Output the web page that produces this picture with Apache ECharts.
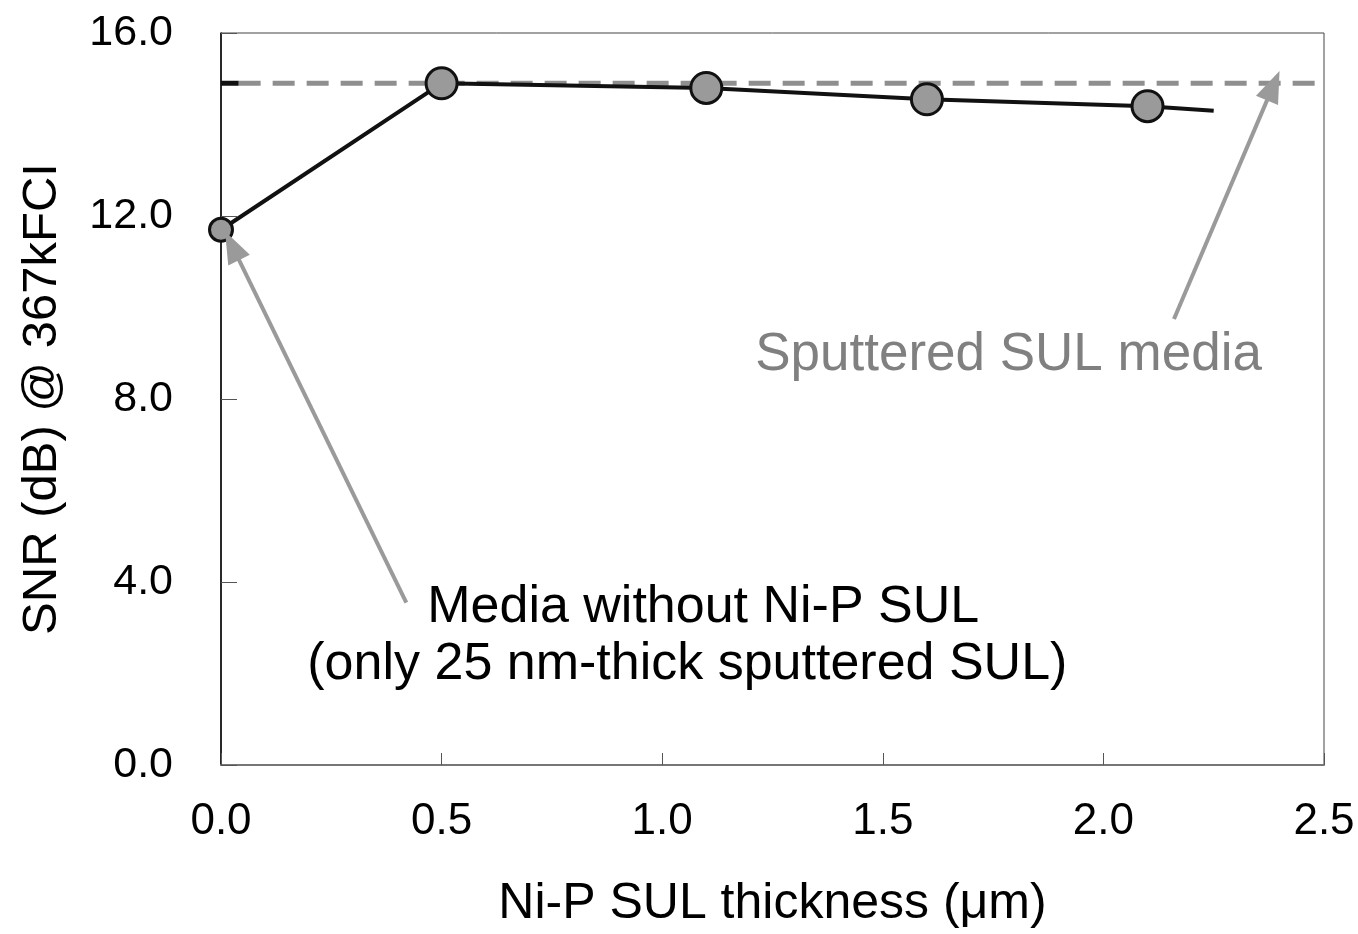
<!DOCTYPE html>
<html>
<head>
<meta charset="utf-8">
<title>SNR vs Ni-P SUL thickness</title>
<script src="https://cdn.jsdelivr.net/npm/echarts@6/dist/echarts.min.js"></script>
<style>
  html, body { margin: 0; padding: 0; background: #fff; }
  #chart { width: 1358px; height: 934px; }
</style>
</head>
<body>
<div id="chart"></div>
<script>
// data
var thickness = [0.0, 0.5, 1.1, 1.6, 2.1];
var snr = [11.7, 14.9, 14.8, 14.55, 14.4];
var lineEnd = [2.25, 14.3];            // line runs a bit past the last point
var sputteredSnr = 14.9;               // reference: sputtered SUL media
var xTicks = [0.0, 0.5, 1.0, 1.5, 2.0, 2.5];
var yTicks = [0.0, 4.0, 8.0, 12.0, 16.0];
var arrowLow = [[0.42, 3.55], [0.025, 11.35]];   // tail, tip
var arrowHigh = [[2.16, 9.75], [2.385, 14.85]];
var noteLow = ['Media without Ni-P SUL', '(only 25 nm-thick sputtered SUL)'];
var notePos = [[1.093, 3.43], [1.057, 2.19]];
var noteHigh = 'Sputtered SUL media';
var noteHighPos = [1.785, 8.96];

var chart = echarts.init(document.getElementById('chart'));

var pts = thickness.map(function (x, i) {
    return {
        value: [x, snr[i]],
        symbolSize: i === 0 ? 23 : 31
    };
});
pts.push({ value: lineEnd, symbol: 'none' });

var font = 'Liberation Sans, Arial, sans-serif';

var option = {
    backgroundColor: '#fff',
    animation: false,
    grid: {
        left: 221, right: 34, top: 33, bottom: 169,
        show: true, borderColor: '#444', borderWidth: 1
    },
    xAxis: {
        type: 'value',
        min: xTicks[0], max: xTicks[xTicks.length - 1], interval: 0.5,
        name: 'Ni-P SUL thickness (\u03bcm)',
        nameLocation: 'middle', nameGap: 114,
        nameTextStyle: { fontSize: 50, color: '#000', fontFamily: font },
        axisLine: { lineStyle: { color: '#777', width: 2 } },
        axisTick: { inside: true, length: 12, lineStyle: { color: '#555' } },
        axisLabel: {
            fontSize: 44, color: '#000', fontFamily: font, margin: 35,
            formatter: function (v) { return v.toFixed(1); }
        },
        splitLine: { show: false }
    },
    yAxis: {
        type: 'value',
        min: yTicks[0], max: yTicks[yTicks.length - 1], interval: 4,
        name: 'SNR (dB) @ 367kFCI',
        nameLocation: 'middle', nameGap: 154,
        nameTextStyle: { fontSize: 49, color: '#000', fontFamily: font },
        axisLine: { lineStyle: { color: '#000', width: 1.5 } },
        axisTick: { inside: true, length: 16, lineStyle: { color: '#555' } },
        axisLabel: {
            fontSize: 43, color: '#000', fontFamily: font, margin: 48,
            formatter: function (v) { return v.toFixed(1); }
        },
        splitLine: { show: false }
    },
    series: [
        {
            // dashed reference of sputtered SUL media
            type: 'line',
            data: [[0.04, sputteredSnr], [xTicks[xTicks.length - 1], sputteredSnr]],
            symbol: 'none',
            z: 1,
            lineStyle: { color: '#8f8f8f', width: 5, type: [22, 12] }
        },
        {
            type: 'line',
            data: [[0, sputteredSnr], [0.04, sputteredSnr]],
            symbol: 'none',
            z: 1,
            lineStyle: { color: '#111', width: 5 }
        },
        {
            type: 'line',
            data: pts,
            symbol: 'circle',
            z: 3,
            lineStyle: { color: '#111', width: 4 },
            itemStyle: { color: '#9a9a9a', borderColor: '#111', borderWidth: 3 },
            markLine: {
                silent: true,
                symbol: ['none', 'triangle'],
                symbolSize: [24, 32],
                label: { show: false },
                lineStyle: { color: '#9a9a9a', width: 4, type: 'solid' },
                data: [
                    [{ coord: arrowLow[0] }, { coord: arrowLow[1] }],
                    [{ coord: arrowHigh[0] }, { coord: arrowHigh[1] }]
                ]
            },
            markPoint: {
                silent: true,
                symbol: 'circle',
                symbolSize: 0,
                data: [
                    {
                        coord: notePos[0],
                        label: { show: true, position: 'inside', formatter: noteLow[0],
                            fontSize: 52, color: '#000', fontFamily: font }
                    },
                    {
                        coord: notePos[1],
                        label: { show: true, position: 'inside', formatter: noteLow[1],
                            fontSize: 52, color: '#000', fontFamily: font }
                    },
                    {
                        coord: noteHighPos,
                        label: { show: true, position: 'inside', formatter: noteHigh,
                            fontSize: 53, color: '#808080', fontFamily: font }
                    }
                ]
            }
        }
    ]
};

chart.setOption(option);
window.addEventListener('resize', function () {
    chart.resize();
});
</script>
</body>
</html>
